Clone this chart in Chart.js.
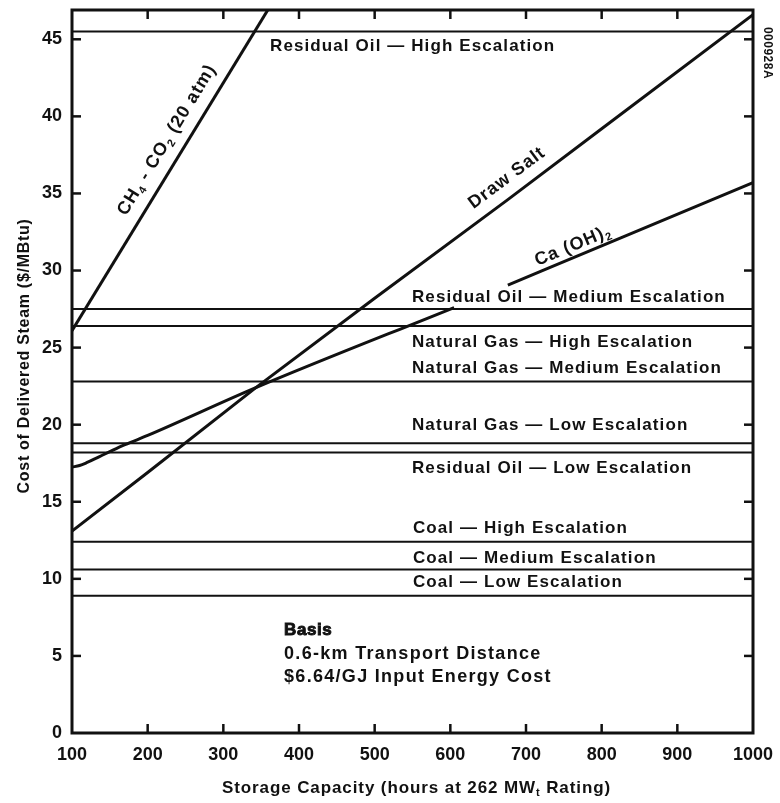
<!DOCTYPE html>
<html>
<head>
<meta charset="utf-8">
<script src="https://cdn.jsdelivr.net/npm/chart.js@4.4.1/dist/chart.umd.min.js"></script>
<style>
html,body{margin:0;padding:0;background:#fff;}
#wrap{width:780px;height:803px;position:relative;}
</style>
</head>
<body>
<div id="wrap"><canvas id="c" width="780" height="803"></canvas></div>
<script>
// ---------- DATA ----------
const xTicks = [100, 200, 300, 400, 500, 600, 700, 800, 900, 1000];
const yTicks = [0, 5, 10, 15, 20, 25, 30, 35, 40, 45];

const levelNames = [
  "Residual Oil \u2014 High Escalation",
  "Residual Oil \u2014 Medium Escalation",
  "Natural Gas \u2014 High Escalation",
  "Natural Gas \u2014 Medium Escalation",
  "Natural Gas \u2014 Low Escalation",
  "Residual Oil \u2014 Low Escalation",
  "Coal \u2014 High Escalation",
  "Coal \u2014 Medium Escalation",
  "Coal \u2014 Low Escalation"
];
const levelValues = [45.5, 27.5, 26.4, 22.8, 18.8, 18.2, 12.4, 10.6, 8.9];

const ch4X = [100, 360];
const ch4Y = [26.1, 47.0];

const drawSaltX = [100, 200, 343, 500, 676, 800, 1000];
const drawSaltY = [13.1, 16.9, 22.4, 28.2, 34.6, 39.2, 46.6];

const caX = [100, 110, 120, 135, 150, 170, 200, 343, 605, 640, 676, 834, 1000];
const caY = [17.25, 17.35, 17.55, 17.9, 18.25, 18.7, 19.3, 22.4, 27.6, null, 29.05, 32.3, 35.7];

const basisLines = ["Basis", "0.6-km Transport Distance", "$6.64/GJ Input Energy Cost"];
const xTitle = ["Storage Capacity (hours at 262 MW", "t", " Rating)"];
const yTitle = "Cost of Delivered Steam ($/MBtu)";
const sideCode = "000928A";

// ---------- CHART ----------
const FONT = "'Liberation Sans', Arial, Helvetica, sans-serif";
const INK = '#111';
const xMin = xTicks[0], xMax = xTicks[xTicks.length - 1];

const lineStyle = w => ({ borderColor: INK, backgroundColor: INK, borderWidth: w, pointRadius: 0, showLine: true, spanGaps: false });
const datasets = [];
levelValues.forEach((v, i) => {
  datasets.push(Object.assign({ label: levelNames[i], data: [{x: xMin, y: v}, {x: xMax, y: v}] }, lineStyle(2)));
});
datasets.push(Object.assign({ label: 'CH4 - CO2 (20 atm)', data: ch4X.map((x, i) => ({x, y: ch4Y[i]})) }, lineStyle(3)));
datasets.push(Object.assign({ label: 'Draw Salt', data: drawSaltX.map((x, i) => ({x, y: drawSaltY[i]})) }, lineStyle(3)));
datasets.push(Object.assign({ label: 'Ca (OH)2', data: caX.map((x, i) => ({x, y: caY[i]})), cubicInterpolationMode: 'monotone' }, lineStyle(3)));

function drawRich(ctx, parts, x, y, size, spacing, align) {
  const base = `bold ${size}px ${FONT}`;
  const sub = `bold ${Math.round(size * 0.62)}px ${FONT}`;
  ctx.letterSpacing = spacing + 'px';
  let total = 0;
  const widths = parts.map(([t, s]) => { ctx.font = s ? sub : base; const w = ctx.measureText(t).width; total += w; return w; });
  let cx = align === 'center' ? x - total / 2 : x;
  ctx.textAlign = 'left';
  ctx.textBaseline = 'middle';
  parts.forEach(([t, s], i) => {
    ctx.font = s ? sub : base;
    ctx.fillText(t, cx, s ? y + size * 0.32 : y);
    cx += widths[i];
  });
  ctx.letterSpacing = '0px';
}

const decor = {
  id: 'decor',
  afterDatasetsDraw(chart) {
    const {ctx, chartArea: a, scales: {x, y}} = chart;
    const px = v => x.getPixelForValue(v);
    const py = v => y.getPixelForValue(v);
    ctx.save();
    ctx.strokeStyle = INK;
    ctx.fillStyle = INK;
    // frame
    ctx.lineWidth = 3;
    ctx.strokeRect(a.left, a.top, a.right - a.left, a.bottom - a.top);
    // inward ticks
    ctx.lineWidth = 2.5;
    const seg = (x1, y1, x2, y2) => { ctx.beginPath(); ctx.moveTo(x1, y1); ctx.lineTo(x2, y2); ctx.stroke(); };
    xTicks.forEach(v => {
      if (v === xMin || v === xMax) return;
      const p = px(v);
      seg(p, a.bottom, p, a.bottom - 9);
      seg(p, a.top, p, a.top + 9);
    });
    yTicks.forEach(v => {
      if (v === 0) return;
      const p = py(v);
      seg(a.left, p, a.left + 9, p);
      seg(a.right, p, a.right - 9, p);
    });

    // level labels (anchor positions in data units)
    const levelLabelPos = [
      [361.7, 44.57], [549.3, 28.28], [549.3, 25.36], [549.3, 23.68],
      [549.3, 19.98], [549.3, 17.19], [550.6, 13.30], [550.6, 11.35], [550.6, 9.80]
    ];
    levelNames.forEach((t, i) => {
      const [lx, ly] = levelLabelPos[i];
      drawRich(ctx, [[t, false]], px(lx), py(ly), 17, 1.1, 'left');
    });

    // basis block
    const basisPos = [[380.2, 6.68], [380.2, 5.12], [380.2, 3.63]];
    basisLines.forEach((t, i) => {
      const [bx, by] = basisPos[i];
      if (i === 0) {
        ctx.lineWidth = 0.9;
        ctx.font = `bold 17px ${FONT}`;
        ctx.letterSpacing = '0.6px';
        ctx.textAlign = 'left'; ctx.textBaseline = 'middle';
        ctx.fillText(t, px(bx), py(by));
        ctx.strokeText(t, px(bx), py(by));
        ctx.letterSpacing = '0px';
      } else {
        drawRich(ctx, [[t, false]], px(bx), py(by), 18, 1.3, 'left');
      }
    });

    // rotated curve labels
    const rotLabel = (parts, cxv, cyv, p1, p2) => {
      const dx = px(p2[0]) - px(p1[0]);
      const dy = py(p2[1]) - py(p1[1]);
      const ang = Math.atan2(dy, dx);
      ctx.save();
      ctx.translate(px(cxv), py(cyv));
      ctx.rotate(ang);
      drawRich(ctx, parts, 0, 0, 18, 1.0, 'center');
      ctx.restore();
    };
    rotLabel([['CH', false], ['4', true], [' - CO', false], ['2', true], [' (20 atm)', false]],
      225.5, 38.47, [ch4X[0], ch4Y[0]], [ch4X[1], ch4Y[1]]);
    rotLabel([['Draw Salt', false]], 674.9, 36.0, [drawSaltX[2], drawSaltY[2]], [drawSaltX[5], drawSaltY[5]]);
    const n = caX.length;
    rotLabel([['Ca (OH)', false], ['2', true]], 762, 31.6, [caX[n - 3], caY[n - 3]], [caX[n - 1], caY[n - 1]]);

    ctx.restore();
  },
  afterDraw(chart) {
    const {ctx, chartArea: a} = chart;
    ctx.save();
    ctx.fillStyle = INK;
    // x title
    const cx = (a.left + a.right) / 2 + 4;
    drawRich(ctx, [[xTitle[0], false], [xTitle[1], true], [xTitle[2], false]], cx, 788, 17, 0.9, 'center');
    // y title
    ctx.save();
    ctx.translate(25, 356);
    ctx.rotate(-Math.PI / 2);
    drawRich(ctx, [[yTitle, false]], 0, 0, 16, 0.7, 'center');
    ctx.restore();
    // side code
    ctx.save();
    ctx.translate(767, 53);
    ctx.rotate(Math.PI / 2);
    drawRich(ctx, [[sideCode, false]], 0, 0, 12, 0.5, 'center');
    ctx.restore();
    ctx.restore();
  }
};

Chart.defaults.font.family = FONT;
Chart.defaults.color = INK;

new Chart(document.getElementById('c'), {
  type: 'scatter',
  data: { datasets },
  options: {
    responsive: false,
    animation: false,
    events: [],
    layout: { padding: { top: 10, right: 27, left: 0, bottom: 0 } },
    plugins: { legend: { display: false }, tooltip: { enabled: false } },
    scales: {
      x: {
        type: 'linear', min: xMin, max: xMax,
        afterBuildTicks: s => { s.ticks = xTicks.map(v => ({ value: v })); },
        afterFit: s => { s.height = 70; s.paddingLeft = 0; s.paddingRight = 0; },
        grid: { display: false, drawTicks: false },
        border: { display: false },
        ticks: { padding: 11, maxRotation: 0, autoSkip: false, color: INK, font: { size: 18, weight: 'bold' }, callback: v => String(v) }
      },
      y: {
        type: 'linear', min: 0, max: 46.9,
        afterBuildTicks: s => { s.ticks = yTicks.map(v => ({ value: v })); },
        afterFit: s => { s.width = 72; s.paddingTop = 0; s.paddingBottom = 0; },
        grid: { display: false, drawTicks: false },
        border: { display: false },
        ticks: { padding: 10, color: INK, font: { size: 18, weight: 'bold' }, callback: v => String(v) }
      }
    }
  },
  plugins: [decor]
});
</script>
</body>
</html>
